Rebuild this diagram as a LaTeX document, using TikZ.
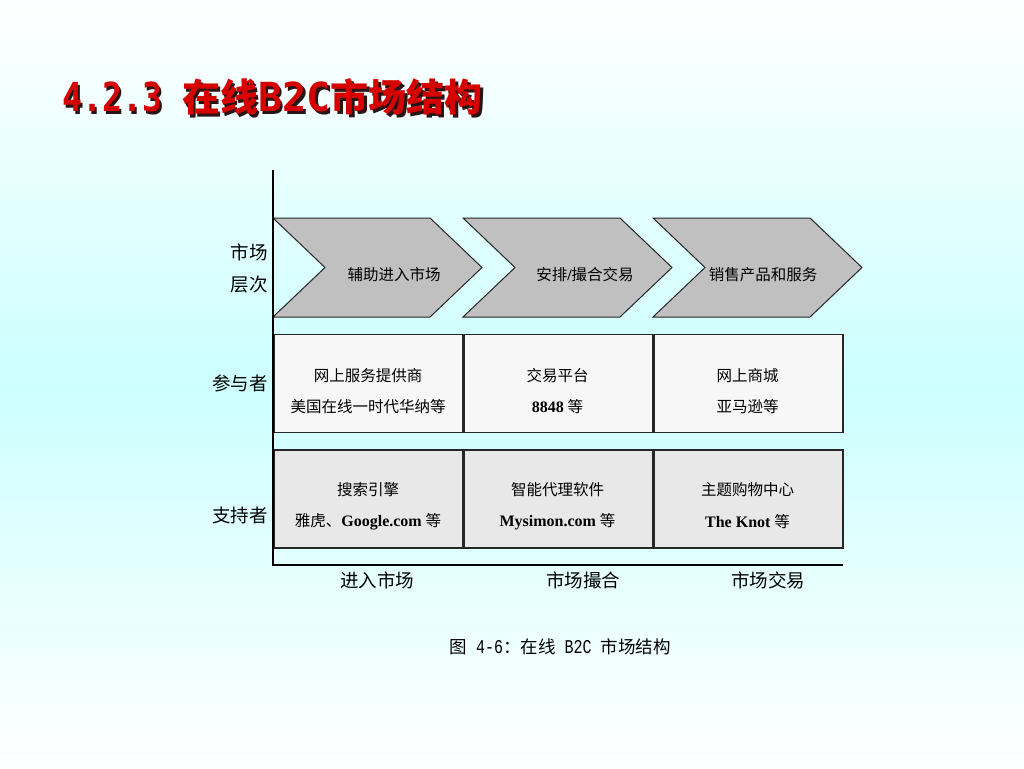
\documentclass[tikz,border=0pt]{standalone}
\usepackage{fontspec}
\setmainfont{Liberation Serif}
\newfontfamily\cjk{Noto Sans CJK SC}
\newfontfamily\monob{DejaVu Sans Mono}
\newfontfamily\capmono{Liberation Mono}
\definecolor{bgcyan}{RGB}{204,255,255}
\definecolor{chevfill}{RGB}{192,192,192}
\definecolor{rowa}{RGB}{247,247,247}
\definecolor{rowb}{RGB}{232,232,232}
\definecolor{titlered}{RGB}{214,0,0}
\definecolor{shadowc}{RGB}{40,20,20}
\tikzset{
  chevron/.style={draw=black!85, line width=1pt, fill=chevfill, line join=miter},
  cellbox/.style={draw=black!85, line width=1.6pt, minimum width=189, minimum height=98, inner sep=0, anchor=north west},
  rowone/.style={cellbox, fill=rowa},
  rowtwo/.style={cellbox, fill=rowb},
  axisline/.style={draw=black, line width=1.5pt},
  celltext/.style={inner sep=0, font=\fontsize{15.5}{17}\selectfont},
  sidelabel/.style={inner sep=0, anchor=east, font=\cjk\fontsize{18.5}{20}\selectfont},
  bottomlabel/.style={inner sep=0, font=\cjk\fontsize{18.5}{20}\selectfont},
  titletext/.style={inner sep=0, anchor=west},
}
\newcommand{\lat}[1]{{\fontsize{16}{17}\selectfont\bfseries #1}}
\newcommand{\capl}[1]{\scalebox{1}[1.3]{\capmono\fontsize{15}{19}\selectfont #1}}
\newcommand{\titlecontent}{%
  \scalebox{1}[1.2]{\monob\bfseries\fontsize{33.3}{36}\selectfont 4.2.3 }%
  {\cjk\bfseries\fontsize{38}{40}\selectfont 在线}%
  {\monob\bfseries\fontsize{40}{42}\selectfont B2C}%
  {\cjk\bfseries\fontsize{38}{40}\selectfont 市场结构}}
\begin{document}
\begin{tikzpicture}[x=1pt,y=-1pt]
\useasboundingbox (0,0) rectangle (1024,768);
\shade[top color=white, bottom color=white, middle color=bgcyan] (0,0) rectangle (1024,768);

% title with shadow
\node[titletext, text=shadowc] (titleshadow) at (64.5,99.5) {\titlecontent};
\node[titletext, text=titlered] (title) at (62,97) {\titlecontent};

% chevrons
\foreach \x/\n in {273/1,463/2,653/3}{
  \draw[chevron] (\x,218) -- ++(157,0) -- ++(52,49.5) -- ++(-52,49.5) -- ++(-157,0) -- ++(52,-49.5) -- cycle;
}
\node[celltext] (c1) at (394,275) {\cjk 辅助进入市场};
\node[celltext] (c2) at (585,275) {{\cjk 安排}\lat{/}{\cjk 撮合交易}};
\node[celltext] (c3) at (763,275) {\cjk 销售产品和服务};

% participant row
\node[rowone] (p1) at (273,333.5) {};
\node[rowone] (p2) at (463,333.5) {};
\node[rowone] (p3) at (653,333.5) {};
\node[celltext] (p1a) at (368,376) {\cjk 网上服务提供商};
\node[celltext] (p1b) at (368,407) {\cjk 美国在线一时代华纳等};
\node[celltext] (p2a) at (557.5,376) {\cjk 交易平台};
\node[celltext] (p2b) at (557.5,407) {\lat{8848} {\cjk 等}};
\node[celltext] (p3a) at (747.5,376) {\cjk 网上商城};
\node[celltext] (p3b) at (747.5,407) {\cjk 亚马逊等};

% supporter row
\node[rowtwo] (s1) at (273,449) {};
\node[rowtwo] (s2) at (463,449) {};
\node[rowtwo] (s3) at (653,449) {};
\node[celltext] (s1a) at (368,490) {\cjk 搜索引擎};
\node[celltext] (s1b) at (368,522) {{\cjk 雅虎、}\lat{Google.com} {\cjk 等}};
\node[celltext] (s2a) at (557.5,490) {\cjk 智能代理软件};
\node[celltext] (s2b) at (557.5,522) {\lat{Mysimon.com} {\cjk 等}};
\node[celltext] (s3a) at (747.5,490) {\cjk 主题购物中心};
\node[celltext] (s3b) at (747.5,522) {\lat{The Knot} {\cjk 等}};

% axes
\coordinate (axtop) at (273,170);
\coordinate (origin) at (273,565);
\coordinate (axright) at (843,565);
\draw[axisline] (axtop) -- (origin) -- (axright);

% side labels
\node[sidelabel] (l1) at (268,252) {市场};
\node[sidelabel] (l2) at (268,285) {层次};
\node[sidelabel] (l3) at (268,383) {参与者};
\node[sidelabel] (l4) at (268,515) {支持者};

% bottom labels
\node[bottomlabel] (b1) at (377,580) {进入市场};
\node[bottomlabel] (b2) at (583,580) {市场撮合};
\node[bottomlabel] (b3) at (768,580) {市场交易};

% caption
\node[inner sep=0, font=\fontsize{17.5}{19}\selectfont] (caption) at (560,647)
  {{\cjk 图}\capl{\ 4-6}{\cjk ：在线}\capl{\ B2C\ }{\cjk 市场结构}};
\end{tikzpicture}
\end{document}
